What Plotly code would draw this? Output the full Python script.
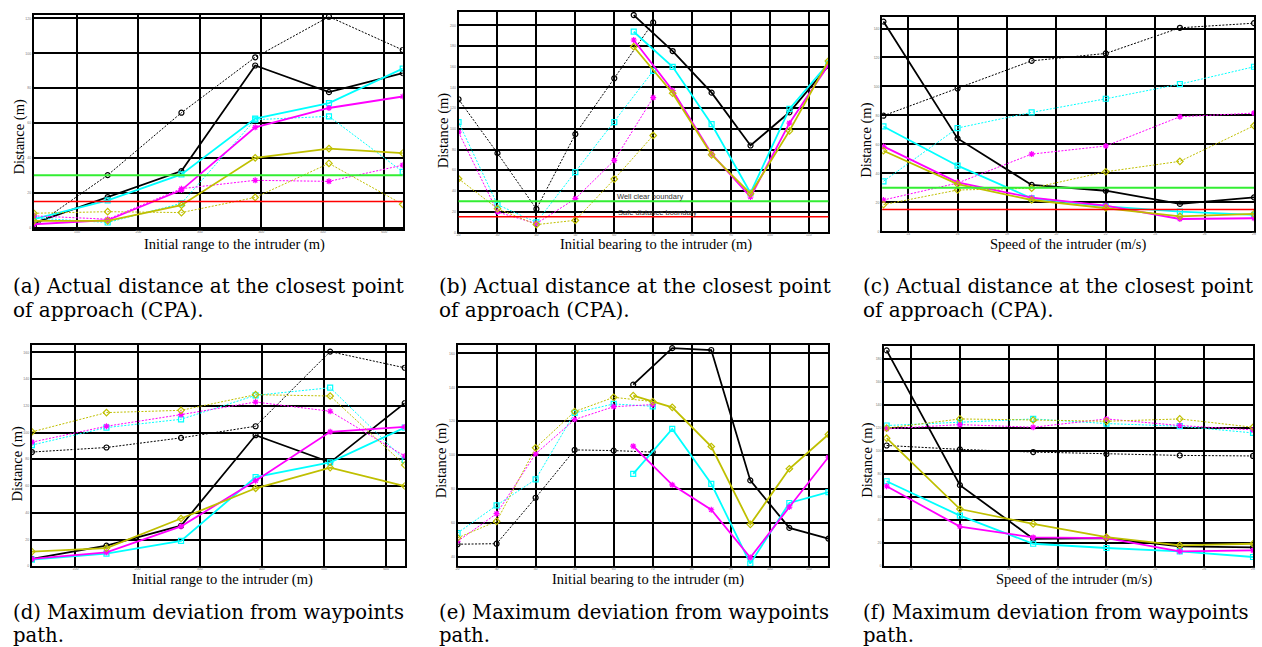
import plotly.graph_objects as go

W, H = 1262, 647

# ---------------- data ----------------
range_x = [30, 150, 270, 390, 510, 630]
bearing_lo = [20, 30, 40, 50, 60, 70]
bearing_hi = [65, 75, 85, 95, 105, 115]
speed_x = [13, 16, 19, 22, 25, 28]

# (a) CPA vs initial range
a_black_dot = [0.5, 30.1, 65.9, 97.7, 121.0, 101.9]
a_black_sol = [2.5, 17.5, 32.4, 93.0, 77.7, 88.6]
a_cyan_sol = [4.8, 15.6, 30.5, 62.5, 71.4, 91.2]
a_cyan_dot = [5.5, 2.9, 13.9, 61.9, 63.8, 32.0]
a_mag_sol = [1.9, 4.2, 21.5, 57.5, 68.6, 75.2]
a_mag_dot = [6.7, 4.8, 22.3, 27.1, 26.5, 35.8]
a_olive_sol = [3.8, 3.8, 12.8, 40.0, 45.3, 42.7]
a_olive_dot = [8.2, 9.1, 8.6, 17.3, 36.8, 13.3]

# (b) CPA vs initial bearing
b_black_lo = [128.6, 76.5, 22.5, 94.9, 148.9, 202.9]
b_black_hi = [210.0, 175.2, 135.0, 83.9, 116.0, 161.0]
b_cyan_lo = [106.4, 26.7, 9.6, 58.2, 106.4, 156.0]
b_cyan_hi = [193.9, 160.0, 104.5, 38.0, 119.3, 163.3]
b_mag_lo = [96.8, 19.6, 8.4, 32.5, 69.5, 130.2]
b_mag_hi = [185.9, 137.0, 75.9, 34.1, 105.5, 161.7]
b_olive_lo = [51.8, 22.8, 7.4, 11.6, 51.4, 93.6]
b_olive_hi = [179.4, 134.4, 74.9, 37.3, 98.0, 165.6]

# (c) CPA vs speed
c_black_dot = [79.8, 98.6, 117.7, 122.8, 140.5, 143.7]
c_black_sol = [144.8, 64.1, 32.0, 28.0, 18.9, 23.4]
c_cyan_dot = [34.5, 71.3, 82.1, 91.5, 101.6, 113.6]
c_cyan_sol = [72.4, 45.3, 22.8, 17.2, 13.6, 11.3]
c_mag_dot = [21.6, 33.3, 53.3, 58.9, 79.1, 81.6]
c_mag_sol = [58.6, 33.8, 23.2, 17.7, 8.5, 9.0]
c_olive_dot = [18.4, 28.5, 29.7, 41.1, 48.3, 72.9]
c_olive_sol = [55.6, 32.6, 21.6, 16.1, 10.3, 12.0]

# (d) max deviation vs initial range
d_black_dot = [85.4, 88.8, 96.0, 104.7, 160.5, 148.4]
d_black_sol = [5.5, 15.4, 30.3, 98.0, 77.7, 122.0]
d_cyan_dot = [90.6, 103.7, 109.9, 127.8, 133.5, 79.4]
d_cyan_sol = [5.0, 9.4, 18.9, 66.7, 77.7, 103.7]
d_mag_dot = [92.8, 104.7, 113.4, 122.8, 115.9, 82.4]
d_mag_sol = [5.5, 10.4, 29.8, 64.0, 100.5, 104.2]
d_olive_dot = [100.5, 114.9, 116.6, 128.3, 127.3, 75.7]
d_olive_sol = [10.9, 13.6, 35.7, 58.3, 73.7, 60.0]

# (e) max deviation vs initial bearing
e_black_lo = [47.5, 47.8, 74.9, 103.1, 102.7, 101.8]
e_black_hi = [141.6, 163.1, 162.0, 85.1, 57.1, 50.8]
e_cyan_lo = [54.1, 70.4, 85.7, 124.9, 130.2, 128.8]
e_cyan_hi = [89.0, 115.5, 83.1, 36.1, 71.8, 78.2]
e_mag_lo = [49.2, 65.5, 100.8, 121.0, 128.6, 129.8]
e_mag_hi = [105.3, 82.5, 67.8, 39.6, 69.4, 98.8]
e_olive_lo = [51.2, 61.0, 104.3, 125.7, 134.1, 131.6]
e_olive_hi = [135.1, 128.2, 105.1, 59.2, 92.0, 112.2]

# (f) max deviation vs speed
f_black_dot = [104.7, 101.3, 99.0, 97.3, 96.1, 95.6]
f_black_sol = [187.1, 70.3, 23.8, 24.4, 17.2, 16.4]
f_cyan_dot = [122.0, 124.8, 127.7, 123.7, 121.4, 115.6]
f_cyan_sol = [73.7, 43.9, 19.5, 15.8, 12.9, 8.0]
f_mag_dot = [119.1, 122.8, 120.5, 127.7, 122.0, 118.2]
f_mag_sol = [69.4, 34.4, 25.0, 24.4, 12.9, 13.8]
f_olive_dot = [119.7, 127.7, 126.8, 125.7, 127.7, 120.5]
f_olive_sol = [111.0, 49.6, 36.7, 25.3, 18.1, 19.5]

well_clear = 30
safe_distance = 15

x_titles = ["Initial range to the intruder (m)", "Initial bearing to the intruder (m)",
            "Speed of the intruder (m/s)"]
y_title = "Distance (m)"
captions = [
    ("(a) Actual distance at the closest point", "of approach (CPA)."),
    ("(b) Actual distance at the closest point", "of approach (CPA)."),
    ("(c) Actual distance at the closest point", "of approach (CPA)."),
    ("(d) Maximum deviation from waypoints", "path."),
    ("(e) Maximum deviation from waypoints", "path."),
    ("(f) Maximum deviation from waypoints", "path."),
]

# ---------------- styles ----------------
BLACK, CYAN, MAG, OLIVE = "#000000", "#00FFFF", "#FF00FF", "#BFBF00"
SYM = {BLACK: "circle-open", CYAN: "square-open", MAG: "asterisk-open", OLIVE: "diamond-open"}

fig = go.Figure()


def add(i, x, y, color, dotted):
    ax = "" if i == 1 else str(i)
    fig.add_trace(go.Scatter(
        x=x, y=y, mode="lines+markers", xaxis="x" + ax, yaxis="y" + ax,
        line=dict(color=color, width=1.0 if dotted else 1.8, dash="2px,1.5px" if dotted else "solid"),
        marker=dict(symbol=SYM[color], size=5, color=color, line=dict(color=color, width=1.2)),
        showlegend=False, hoverinfo="skip"))


panels = [
    (1, range_x, range_x, [(a_black_dot, BLACK, True), (a_black_sol, BLACK, False),
                           (a_cyan_dot, CYAN, True), (a_cyan_sol, CYAN, False),
                           (a_mag_dot, MAG, True), (a_mag_sol, MAG, False),
                           (a_olive_dot, OLIVE, True), (a_olive_sol, OLIVE, False)]),
    (2, bearing_lo, bearing_hi, [(b_black_lo, b_black_hi, BLACK), (b_cyan_lo, b_cyan_hi, CYAN),
                                 (b_mag_lo, b_mag_hi, MAG), (b_olive_lo, b_olive_hi, OLIVE)]),
    (3, speed_x, speed_x, [(c_black_dot, BLACK, True), (c_black_sol, BLACK, False),
                           (c_cyan_dot, CYAN, True), (c_cyan_sol, CYAN, False),
                           (c_mag_dot, MAG, True), (c_mag_sol, MAG, False),
                           (c_olive_dot, OLIVE, True), (c_olive_sol, OLIVE, False)]),
    (4, range_x, range_x, [(d_black_dot, BLACK, True), (d_black_sol, BLACK, False),
                           (d_cyan_dot, CYAN, True), (d_cyan_sol, CYAN, False),
                           (d_mag_dot, MAG, True), (d_mag_sol, MAG, False),
                           (d_olive_dot, OLIVE, True), (d_olive_sol, OLIVE, False)]),
    (5, bearing_lo, bearing_hi, [(e_black_lo, e_black_hi, BLACK), (e_cyan_lo, e_cyan_hi, CYAN),
                                 (e_mag_lo, e_mag_hi, MAG), (e_olive_lo, e_olive_hi, OLIVE)]),
    (6, speed_x, speed_x, [(f_black_dot, BLACK, True), (f_black_sol, BLACK, False),
                           (f_cyan_dot, CYAN, True), (f_cyan_sol, CYAN, False),
                           (f_mag_dot, MAG, True), (f_mag_sol, MAG, False),
                           (f_olive_dot, OLIVE, True), (f_olive_sol, OLIVE, False)]),
]

for i, xa, xb, series in panels:
    if i in (2, 5):
        for lo, hi, col in series:
            add(i, xa, lo, col, True)
            add(i, xb, hi, col, False)
    else:
        for y, col, dotted in series:
            add(i, xa, y, col, dotted)

# panel geometry in pixels: (left, right, top, bottom), axis ranges, ticks
geom = {
    1: dict(px=(32, 402, 15, 230), xr=[30, 630], yr=[-1, 122], xt=(100, 100), yt=(0, 20)),
    2: dict(px=(458, 829, 12, 233), xr=[20, 115], yr=[0, 213], xt=(20, 10), yt=(0, 20)),
    3: dict(px=(883, 1256, 17, 232), xr=[12.95, 28], yr=[0, 148], xt=(14, 2), yt=(0, 20)),
    4: dict(px=(30, 404, 346, 568), xr=[30, 630], yr=[0, 165.5], xt=(100, 100), yt=(0, 20)),
    5: dict(px=(457, 829, 346, 568), xr=[20, 115], yr=[34.5, 165], xt=(20, 10), yt=(40, 20)),
    6: dict(px=(885, 1255, 347, 568), xr=[12.9, 28], yr=[0, 191], xt=(14, 2), yt=(0, 20)),
}

layout = dict(
    width=W, height=H, margin=dict(l=0, r=0, t=0, b=0),
    paper_bgcolor="white", plot_bgcolor="white", showlegend=False,
)
tickfont = dict(family="Liberation Sans", size=3.5, color="#777777")
for i, g in geom.items():
    l, r, t, b = g["px"]
    ax = "" if i == 1 else str(i)
    common = dict(showgrid=True, gridcolor="black", gridwidth=2, showline=True, linecolor="black",
                  linewidth=2, mirror=True, zeroline=False, ticks="", tickfont=tickfont,
                  ticklen=0, fixedrange=True)
    layout["xaxis" + ax] = dict(common, domain=[l / W, r / W], range=g["xr"], tick0=g["xt"][0],
                                dtick=g["xt"][1], anchor="y" + ax, ticklabelstandoff=-2)
    layout["yaxis" + ax] = dict(common, domain=[1 - b / H, 1 - t / H], range=g["yr"],
                                tick0=g["yt"][0], dtick=g["yt"][1], anchor="x" + ax)
fig.update_layout(**layout)

# reference lines (well clear / safe distance) on top row
for i in (1, 2, 3):
    ax = "" if i == 1 else str(i)
    fig.add_shape(type="line", x0=0, x1=1, y0=well_clear, y1=well_clear,
                  xref="x" + ax + " domain", yref="y" + ax,
                  line=dict(color="#33EE33", width=2))
    fig.add_shape(type="line", x0=0, x1=1, y0=safe_distance, y1=safe_distance,
                  xref="x" + ax + " domain", yref="y" + ax,
                  line=dict(color="#FF0000", width=1.5))

fig.add_annotation(x=60.3, y=34.7, xref="x2", yref="y2", text="Well clear boundary", showarrow=False,
                   xanchor="left", yanchor="middle", font=dict(family="Liberation Sans", size=7.5, color="#333"))
fig.add_annotation(x=60.5, y=19.6, xref="x2", yref="y2", text="Safe distance boundary", showarrow=False,
                   xanchor="left", yanchor="middle", font=dict(family="Liberation Sans", size=7.5, color="#333"))

# axis titles (pixel placement)
serif = "Liberation Serif"
xt_pos = [(233.7, 245.5), (655.7, 245.5), (1069, 245.5), (221.7, 581), (647.8, 581), (1075, 581.5)]
yt_pos = [(18, 137), (443, 131), (867, 141), (16, 465), (441, 462), (868, 462)]
for k in range(6):
    x, y = xt_pos[k]
    fig.add_annotation(x=x / W, y=1 - y / H, xref="paper", yref="paper", text=x_titles[k % 3],
                       showarrow=False, xanchor="center", yanchor="middle",
                       font=dict(family=serif, size=14.5, color="black"))
    x, y = yt_pos[k]
    fig.add_annotation(x=x / W, y=1 - y / H, xref="paper", yref="paper", text=y_title,
                       showarrow=False, xanchor="center", yanchor="middle", textangle=-90,
                       font=dict(family=serif, size=14.5, color="black"))

# captions (two lines each, placed by line centre)
cap_x = [9, 436, 862, 9, 436, 862]
cap_y = [(287, 310.5), (287, 310.5), (287, 310.5), (614, 637), (614, 637), (614, 637)]
for k in range(6):
    for line, y in zip(captions[k], cap_y[k]):
        fig.add_annotation(x=cap_x[k] / W, y=1 - y / H, xref="paper", yref="paper", text=line,
                           showarrow=False, xanchor="left", yanchor="middle", align="left",
                           font=dict(family="DejaVu Serif", size=20 if k < 3 else 19.6, color="black"))

fig.write_html("out.html", config={"displayModeBar": False},
               post_script="document.body.style.margin='0px';")
